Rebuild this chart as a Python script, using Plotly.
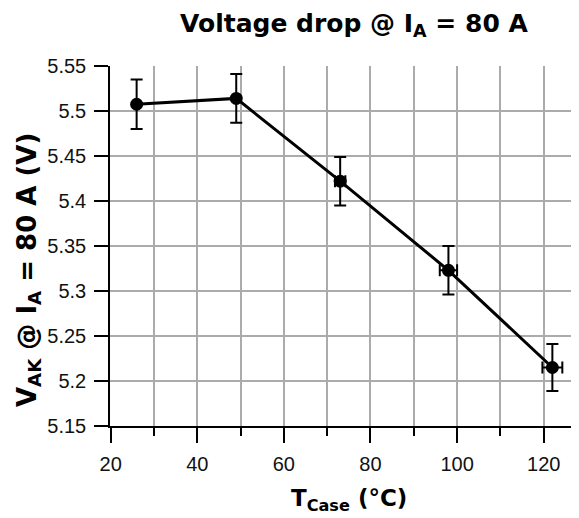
import plotly.graph_objects as go

# data
t_case = [26, 49, 73, 98, 122]
v_ak = [5.5075, 5.514, 5.422, 5.323, 5.215]
v_err = [0.0275, 0.027, 0.027, 0.027, 0.026]
t_err = [0, 0, 1.2, 2.0, 2.3]

x_ticks = [20, 40, 60, 80, 100, 120]
y_ticks = [5.15, 5.2, 5.25, 5.3, 5.35, 5.4, 5.45, 5.5, 5.55]
y_labels = ["5.15", "5.2", "5.25", "5.3", "5.35", "5.4", "5.45", "5.5", "5.55"]

# page body has an 8px margin, so the figure is a bit smaller than the window
W, H = 571, 510
ML, MT, MB, MR = 102, 58, 92, 0
pw = W - ML - MR
ph = H - MT - MB


def px(x):
    return (x - ML) / pw


def py(y):
    return (H - MB - y) / ph


font = "Liberation Sans, Arial, sans-serif"
bold_font = "DejaVu Sans, Arial, sans-serif"
grid = "#ababab"

fig = go.Figure(go.Scatter(
    x=t_case, y=v_ak,
    mode="lines+markers",
    line=dict(color="black", width=3),
    marker=dict(color="black", size=13, symbol="circle"),
    error_y=dict(type="data", array=v_err, color="black", thickness=2, width=6),
    error_x=dict(type="data", array=t_err, color="black", thickness=2, width=6),
    showlegend=False,
))

fig.update_layout(
    width=W, height=H,
    margin=dict(l=ML, r=MR, t=MT, b=MB),
    plot_bgcolor="white", paper_bgcolor="white",
    font=dict(family=font, color="#111", size=20),
    title=dict(text="<b>Voltage drop @ I<sub>A</sub> = 80 A</b>",
               font=dict(family=bold_font, size=25, color="black"),
               xref="container", x=172 / W, xanchor="left",
               yref="container", y=1 - 15 / H, yanchor="middle"),
    xaxis=dict(range=[19.85, 128.15], tickvals=x_ticks,
               showline=True, linecolor="black", linewidth=1.5,
               ticks="outside", ticklen=15, tickwidth=1.5, tickcolor="black",
               showgrid=True, gridcolor=grid, gridwidth=2, zeroline=False,
               minor=dict(dtick=10, tick0=0, ticks="outside", ticklen=8,
                          tickwidth=1.5, tickcolor="black",
                          showgrid=True, gridcolor=grid, gridwidth=2),
               ticklabelstandoff=4, tickfont=dict(size=20)),
    yaxis=dict(range=[5.15, 5.55], tickvals=y_ticks, ticktext=y_labels,
               showline=True, linecolor="black", linewidth=1.5,
               ticks="outside", ticklen=14, tickwidth=1.5, tickcolor="black",
               showgrid=True, gridcolor=grid, gridwidth=2, zeroline=False,
               ticklabelstandoff=4, tickfont=dict(size=20)),
    annotations=[
        dict(text="<b>T<sub>Case</sub> (°C)</b>", xref="paper", yref="paper",
             x=px(341), y=py(492), xanchor="center", yanchor="middle",
             showarrow=False, font=dict(family=bold_font, size=23, color="black")),
        dict(text="<b>V<sub>AK</sub> @ I<sub>A</sub> = 80 A (V)</b>",
             xref="paper", yref="paper", textangle=-90,
             x=px(20), y=py(262), xanchor="center", yanchor="middle",
             showarrow=False, font=dict(family=bold_font, size=26, color="black")),
    ],
)

fig.write_html("out.html")
